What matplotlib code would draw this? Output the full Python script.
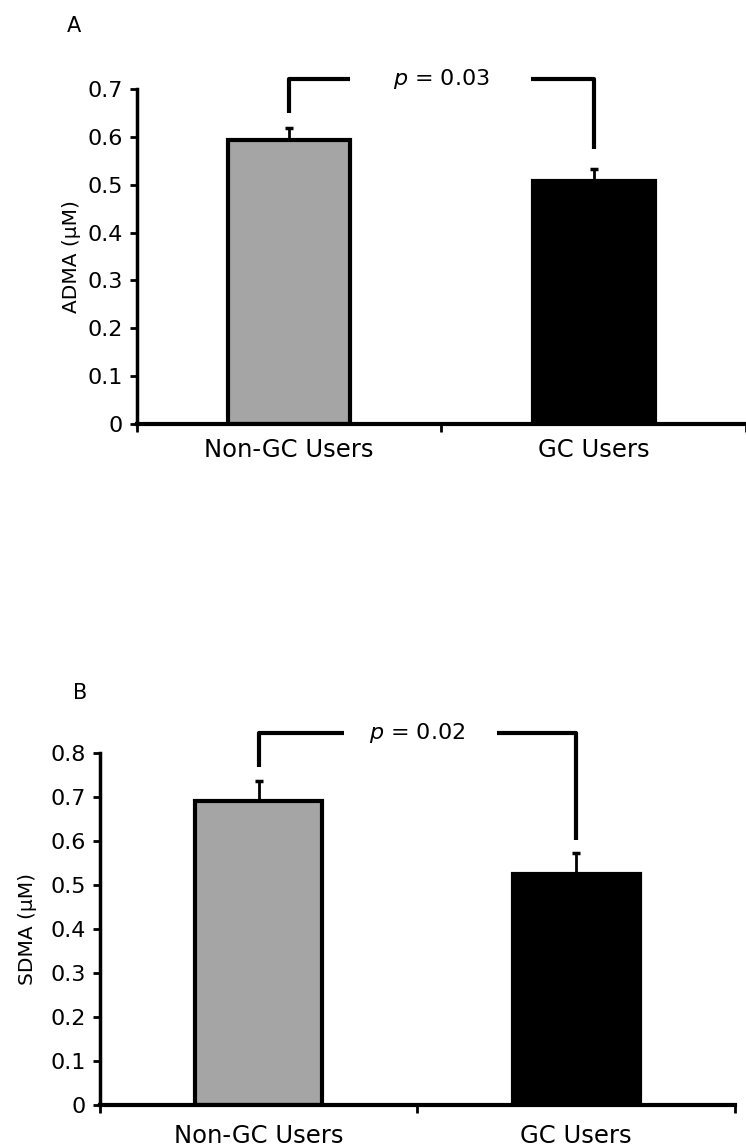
import numpy as np
import matplotlib.pyplot as plt

plt.rcParams['font.family'] = ['DejaVu Sans']

groups = ["Non-GC Users", "GC Users"]
colors = ["#a5a5a5", "#000000"]

adma_mean = [0.593, 0.508]
adma_err = [0.025, 0.025]
sdma_mean = [0.692, 0.525]
sdma_err = [0.044, 0.048]

# bracket: (level of horizontal, left foot, right foot, left gap end, right gap start, label)
brackets = {
    "A": (0.72, 0.65, 0.575, 0.70, 1.295, "0.03"),
    "B": (0.845, 0.768, 0.602, 0.77, 1.25, "0.02"),
}

fig = plt.figure(figsize=(7.46, 11.47), dpi=100)
ax1 = fig.add_axes([0.1836, 0.6303, 0.8164, 0.2921])
ax2 = fig.add_axes([0.134, 0.0366, 0.851, 0.3069])


def draw_panel(ax, means, errs, ylim, yticks, ylabel, key, ticklabel_pad, labelpad):
    x = np.array([0.5, 1.5])
    ax.bar(x, means, width=0.4, color=colors, edgecolor="black", linewidth=3, zorder=2)
    ax.errorbar(x, means, yerr=[[0, 0], errs], fmt="none", ecolor="black",
                elinewidth=2, capsize=3, capthick=2.5, zorder=1)
    ax.set_xlim(0, 2)
    ax.set_ylim(*ylim)
    ax.set_yticks(yticks)
    ax.set_yticklabels(["0" if t == 0 else f"{t:.1f}" for t in yticks], fontsize=16)
    ax.set_xticks([0, 1, 2])
    ax.set_xticklabels(["", "", ""])
    ax.set_xticks(x, minor=True)
    ax.set_xticklabels(groups, minor=True, fontsize=17.5)
    ax.tick_params(axis="x", which="minor", length=0, pad=ticklabel_pad)
    ax.tick_params(axis="x", which="major", length=6, width=2, direction="out")
    ax.tick_params(axis="y", length=5, width=2, direction="out", pad=5)
    for s in ["top", "right"]:
        ax.spines[s].set_visible(False)
    ax.spines["left"].set_linewidth(2.5)
    ax.spines["bottom"].set_linewidth(3)
    ax.set_ylabel(ylabel, fontsize=14.5, labelpad=labelpad)

    level, lfoot, rfoot, lgap, rgap, ptxt = brackets[key]
    kw = dict(color="black", linewidth=3, clip_on=False, solid_capstyle="butt")
    ax.plot([x[0], x[0], lgap], [lfoot, level, level], **kw)
    ax.plot([rgap, x[1], x[1]], [level, level, rfoot], **kw)
    ax.text(1.0, level, r"$\it{p}$ = " + ptxt, ha="center", va="center", fontsize=16)


draw_panel(ax1, adma_mean, adma_err, (0, 0.7), np.arange(0, 0.71, 0.1),
           "ADMA (µM)", "A", 10, 5)
draw_panel(ax2, sdma_mean, sdma_err, (0, 0.8), np.arange(0, 0.81, 0.1),
           "SDMA (µM)", "B", 14, 10)

fig.text(74 / 746, 1 - 26 / 1147, "A", fontsize=15, ha="center", va="center")
fig.text(80 / 746, 1 - 693 / 1147, "B", fontsize=15, ha="center", va="center")

fig.savefig("out.png", dpi=100)
